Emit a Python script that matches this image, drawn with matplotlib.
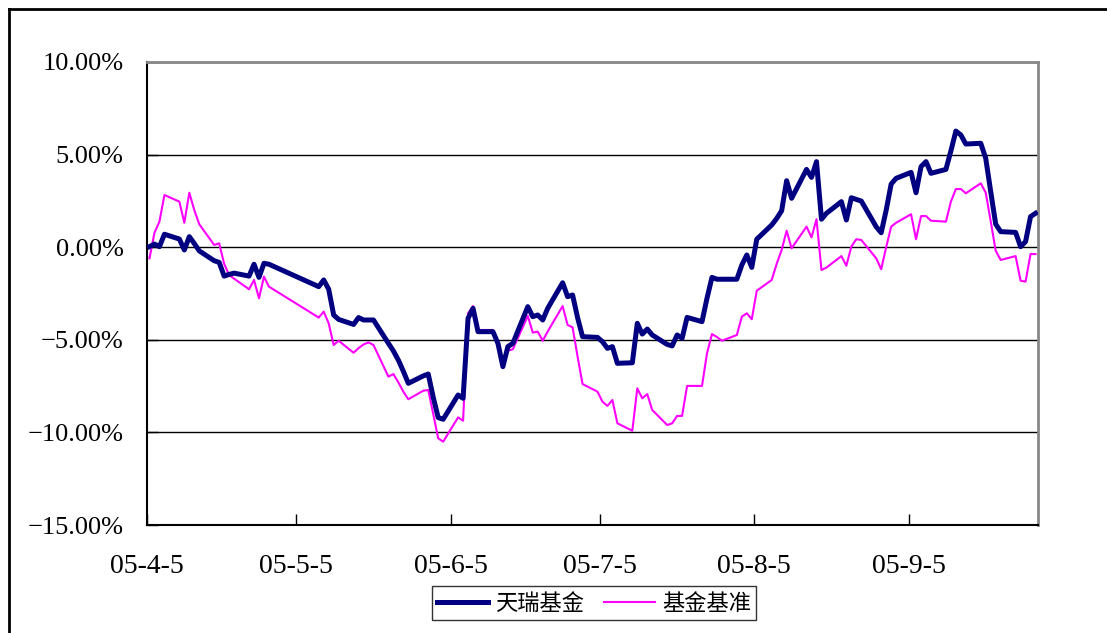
import matplotlib
matplotlib.use("Agg")
import matplotlib.pyplot as plt
from matplotlib.lines import Line2D
import pandas as pd

# 交易日 (2005年)
dates = [
    "04-05", "04-06", "04-07", "04-08",
    "04-11", "04-12", "04-13", "04-14", "04-15",
    "04-18", "04-19", "04-20", "04-21", "04-22",
    "04-25", "04-26", "04-27", "04-28", "04-29",
    "05-09", "05-10", "05-11", "05-12", "05-13",
    "05-16", "05-17", "05-18", "05-19", "05-20",
    "05-23", "05-24", "05-25", "05-26", "05-27",
    "05-30", "05-31",
    "06-01", "06-02", "06-03",
    "06-06", "06-07", "06-08", "06-09", "06-10",
    "06-13", "06-14", "06-15", "06-16", "06-17",
    "06-20", "06-21", "06-22", "06-23", "06-24",
    "06-27", "06-28", "06-29", "06-30",
    "07-01",
    "07-04", "07-05", "07-06", "07-07", "07-08",
    "07-11", "07-12", "07-13", "07-14", "07-15",
    "07-18", "07-19", "07-20", "07-21", "07-22",
    "07-25", "07-26", "07-27", "07-28", "07-29",
    "08-01", "08-02", "08-03", "08-04", "08-05",
    "08-08", "08-09", "08-10", "08-11", "08-12",
    "08-15", "08-16", "08-17", "08-18", "08-19",
    "08-22", "08-23", "08-24", "08-25", "08-26",
    "08-29", "08-30", "08-31",
    "09-01", "09-02",
    "09-05", "09-06", "09-07", "09-08", "09-09",
    "09-12", "09-13", "09-14", "09-15", "09-16",
    "09-19", "09-20", "09-21", "09-22", "09-23",
    "09-26", "09-27", "09-28", "09-29", "09-30",
]

# 天瑞基金 (%)
fund = [
    0.03, 0.17, 0.03, 0.70,
    0.44, -0.15, 0.57, 0.20, -0.20,
    -0.73, -0.82, -1.56, -1.47, -1.40,
    -1.56, -0.92, -1.63, -0.87, -0.92,
    -2.13, -1.77, -2.27, -3.66, -3.90,
    -4.17, -3.80, -3.93, -3.93, -3.93,
    -5.19, -5.60, -6.10, -6.70, -7.35,
    -6.95, -6.85,
    -8.10, -9.20, -9.29,
    -7.98, -8.16, -3.84, -3.30, -4.56,
    -4.56, -5.19, -6.45, -5.37, -5.19,
    -3.21, -3.75, -3.66, -3.93, -3.30,
    -1.92, -2.67, -2.58, -3.80,
    -4.83,
    -4.87, -5.10, -5.46, -5.37, -6.27,
    -6.24, -4.11, -4.69, -4.42, -4.74,
    -5.25, -5.33, -4.74, -4.92, -3.79,
    -4.02, -2.76, -1.63, -1.73, -1.73,
    -1.73, -0.96, -0.42, -1.09, 0.43,
    1.20, 1.55, 1.97, 3.59, 2.64,
    4.20, 3.77, 4.62, 1.51, 1.83,
    2.46, 1.47, 2.67, 2.58, 2.49,
    1.10, 0.78, 2.00,
    3.41, 3.72,
    4.04, 2.94, 4.35, 4.62, 3.99,
    4.20, 5.20, 6.27, 6.06, 5.57,
    5.61, 4.80, 3.00, 1.25, 0.84,
    0.80, 0.03, 0.30, 1.65, 1.83,
]

# 基金基准 (%)
bench = [
    -0.60, 0.78, 1.38, 2.82,
    2.46, 1.32, 2.94, 2.00, 1.24,
    0.12, 0.21, -0.90, -1.50, -1.70,
    -2.27, -1.77, -2.76, -1.59, -2.13,
    -3.80, -3.48, -4.11, -5.28, -5.05,
    -5.70, -5.45, -5.25, -5.14, -5.28,
    -6.99, -6.85, -7.30, -7.80, -8.21,
    -7.75, -7.71,
    -9.00, -10.32, -10.50,
    -9.19, -9.37, -3.57, -3.18, -4.47,
    -4.47, -5.28, -6.36, -5.59, -5.51,
    -3.71, -4.61, -4.56, -5.05, -4.55,
    -3.18, -4.20, -4.33, -5.90,
    -7.39,
    -7.80, -8.34, -8.57, -8.25, -9.51,
    -9.91, -7.62, -8.16, -7.93, -8.79,
    -9.60, -9.51, -9.11, -9.11, -7.49,
    -7.49, -5.73, -4.69, -4.85, -5.05,
    -4.74, -3.75, -3.57, -3.89, -2.35,
    -1.77, -0.90, -0.15, 0.89, -0.06,
    1.11, 0.53, 1.51, -1.23, -1.10,
    -0.48, -1.00, 0.03, 0.43, 0.39,
    -0.60, -1.19, 0.00,
    1.11, 1.32,
    1.78, 0.43, 1.68, 1.68, 1.43,
    1.38, 2.46, 3.14, 3.14, 2.91,
    3.45, 2.94, 1.40, -0.19, -0.69,
    -0.48, -1.81, -1.86, -0.37, -0.37,
]

tick_dates = ["2005-04-05", "2005-05-05", "2005-06-05", "2005-07-05", "2005-08-05", "2005-09-05"]
tick_labels = ["05-4-5", "05-5-5", "05-6-5", "05-7-5", "05-8-5", "05-9-5"]
y_ticks = [-15, -10, -5, 0, 5, 10]

W, H = 1107, 633
x = pd.to_datetime(["2005-" + d for d in dates]) + pd.Timedelta(hours=12)

fig = plt.figure(figsize=(W / 100, H / 100), dpi=100)
ax = fig.add_axes([147 / W, 1 - 525 / H, (1038 - 147) / W, (525 - 62) / H])

ax.plot(x, fund, color="#000080", lw=3.6, solid_joinstyle="round", label="天瑞基金", zorder=3)
ax.plot(x, bench, color="#FF00FF", lw=1.5, label="基金基准", zorder=2)

ax.set_xlim(pd.Timestamp("2005-04-05"), pd.Timestamp("2005-10-01"))
ax.set_ylim(-15, 10)

ax.set_xticks(pd.to_datetime(tick_dates))
ax.set_xticklabels(tick_labels)
ax.set_yticks(y_ticks)
ax.set_yticklabels([f"{v:.2f}%".replace("-", "−") for v in y_ticks])

for lab in ax.get_xticklabels():
    lab.set_family(["Liberation Serif", "DejaVu Serif"])
    lab.set_fontsize(20)
for lab in ax.get_yticklabels():
    lab.set_family(["Liberation Serif", "DejaVu Serif"])
    lab.set_fontsize(19)

ax.tick_params(axis="x", direction="in", length=8, width=1, pad=21, colors="black")
ax.tick_params(axis="y", direction="in", length=8, width=1, pad=17, colors="black")

ax.grid(axis="y", color="black", lw=1)
ax.set_axisbelow(True)

ax.spines["left"].set_color("black")
ax.spines["bottom"].set_color("black")
ax.spines["left"].set_linewidth(1.5)
ax.spines["bottom"].set_linewidth(1.5)
ax.spines["top"].set_color("#888888")
ax.spines["right"].set_color("#888888")
ax.spines["top"].set_linewidth(2)
ax.spines["right"].set_linewidth(2)

leg = fig.legend(loc="center", bbox_to_anchor=(594 / W, 1 - 603 / H), ncol=2,
                 prop={"family": ["Noto Sans CJK SC", "DejaVu Sans"], "size": 16},
                 frameon=True, fancybox=False, edgecolor="black",
                 handlelength=2.3, handletextpad=0.3, columnspacing=0.9,
                 borderpad=0.25, borderaxespad=0)
leg.get_frame().set_linewidth(1)

# 外框
fig.add_artist(Line2D([9 / W, 1], [1 - 9 / H, 1 - 9 / H], transform=fig.transFigure, color="black", lw=2))
fig.add_artist(Line2D([9 / W, 9 / W], [0, 1 - 9 / H], transform=fig.transFigure, color="black", lw=2))

fig.savefig("out.png", dpi=100)
